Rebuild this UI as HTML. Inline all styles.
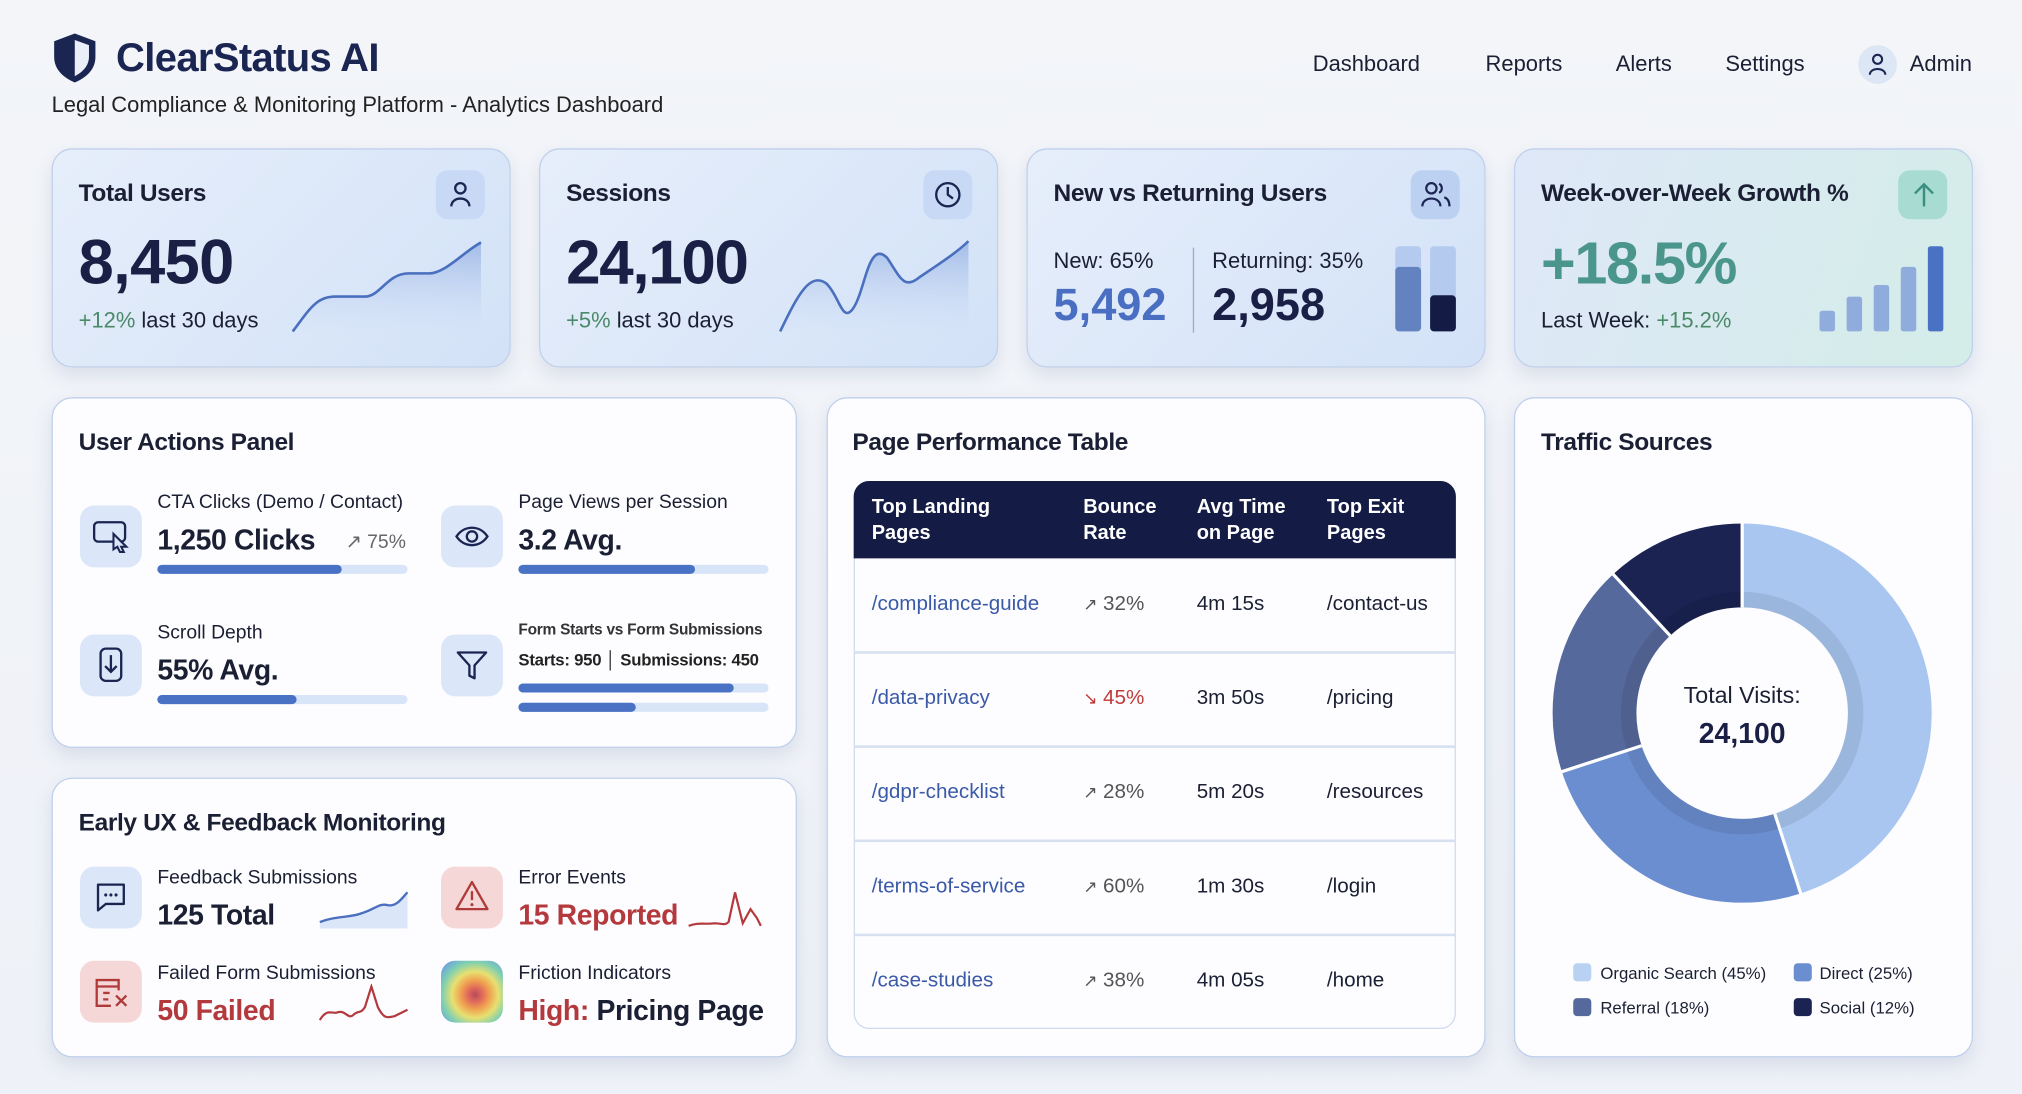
<!DOCTYPE html>
<html><head><meta charset="utf-8"><style>
html,body{margin:0;padding:0;width:2022px;height:1094px;overflow:hidden;background:#f1f3f8;}
#w{position:absolute;left:0;top:0;width:1568px;height:848px;transform:scale(1.28954);transform-origin:0 0;font-family:"Liberation Sans",sans-serif;color:#1b1f33;background:linear-gradient(180deg,#f3f5f9,#eef1f7);}
.a{position:absolute;white-space:nowrap;}
.card{position:absolute;border-radius:16px;border:1.5px solid #bfd0ec;box-shadow:0 6px 14px rgba(80,100,150,.15);}
.top{background:linear-gradient(135deg,#e6eefa,#d3e2f8);}
.pan{background:#fdfdff;}
.ib{position:absolute;width:38px;height:38px;border-radius:9px;background:#c7d9f5;}
.sq{position:absolute;width:48px;height:48px;border-radius:11px;background:#dbe6f8;}
.t{font-size:19px;font-weight:bold;letter-spacing:-.3px;}
.lbl{font-size:15px;}
.val{font-size:22px;font-weight:bold;letter-spacing:-.3px;}
.bar{position:absolute;height:7px;border-radius:4px;background:#d8e4f7;}
.bar i{position:absolute;left:0;top:0;height:7px;border-radius:4px;background:#4a72c4;}
.th{font-size:15.5px;color:#fff;line-height:20px;font-weight:bold;}
.td{font-size:16px;}
.ln{position:absolute;left:662px;width:467px;height:1.5px;background:#d6e0f0;}
</style></head><body><div id="w">
<!-- header -->
<svg class="a" style="left:40px;top:25px" width="36" height="40" viewBox="0 0 36 40"><path d="M18 1 L34 7 V19 C34 29 27 35 18 39 C9 35 2 29 2 19 V7 Z" fill="#1a2552"/><path d="M18 6 L29 10 V19 C29 26 24 31 18 34 Z" fill="#e9eef8"/></svg>
<div class="a" style="left:90px;top:27px;font-size:31px;font-weight:bold;color:#1a2552;letter-spacing:-.5px">ClearStatus AI</div>
<div class="a" style="left:40px;top:72px;font-size:17px;color:#222">Legal Compliance &amp; Monitoring Platform - Analytics Dashboard</div>
<div class="a" style="left:1018px;top:40px;font-size:17px">Dashboard</div>
<div class="a" style="left:1152px;top:40px;font-size:17px">Reports</div>
<div class="a" style="left:1253px;top:40px;font-size:17px">Alerts</div>
<div class="a" style="left:1338px;top:40px;font-size:17px">Settings</div>
<div class="a" style="left:1441px;top:35px;width:30px;height:30px;border-radius:50%;background:#dde6f5"></div>
<svg class="a" style="left:1448px;top:41px" width="16" height="18" viewBox="0 0 16 18"><circle cx="8" cy="5" r="3.5" fill="none" stroke="#1a2552" stroke-width="1.6"/><path d="M2 17 C2 11 14 11 14 17" fill="none" stroke="#1a2552" stroke-width="1.6"/></svg>
<div class="a" style="left:1481px;top:40px;font-size:17px">Admin</div>

<!-- top cards -->
<div class="card top" style="left:40px;top:115px;width:354px;height:168px"></div>
<div class="card top" style="left:418px;top:115px;width:354px;height:168px"></div>
<div class="card top" style="left:796px;top:115px;width:354px;height:168px"></div>
<div class="card" style="left:1174px;top:115px;width:354px;height:168px;background:linear-gradient(110deg,#dfe8f8,#d3ede8)"></div>

<div class="a t" style="left:61px;top:140px">Total Users</div>
<div class="ib" style="left:338px;top:132px"></div>
<svg class="a" style="left:347px;top:140px" width="20" height="22" viewBox="0 0 20 22"><circle cx="10" cy="6" r="4" fill="none" stroke="#1a2552" stroke-width="1.8"/><path d="M3 20 C3 12 17 12 17 20" fill="none" stroke="#1a2552" stroke-width="1.8"/></svg>
<div class="a" style="left:61px;top:176px;font-size:49px;font-weight:bold;color:#1a2045;letter-spacing:-.5px">8,450</div>
<div class="a" style="left:61px;top:239px;font-size:17px"><span style="color:#4a8a68">+12%</span> last 30 days</div>
<svg class="a" style="left:225px;top:185px" width="150" height="75" viewBox="0 0 150 75"><defs><linearGradient id="g1" x1="0" y1="0" x2="0" y2="1"><stop offset="0" stop-color="#7fa0dc" stop-opacity=".6"/><stop offset="1" stop-color="#c9d9f3" stop-opacity="0"/></linearGradient></defs><path d="M2 72 C15 55 20 45 35 45 L58 45 C70 45 75 27 92 27 L108 27 C120 27 135 10 148 3 V75 H2Z" fill="url(#g1)"/><path d="M2 72 C15 55 20 45 35 45 L58 45 C70 45 75 27 92 27 L108 27 C120 27 135 10 148 3" fill="none" stroke="#4a6fbf" stroke-width="2"/></svg>

<div class="a t" style="left:439px;top:140px">Sessions</div>
<div class="ib" style="left:716px;top:132px"></div>
<svg class="a" style="left:724px;top:140px" width="22" height="22" viewBox="0 0 22 22"><circle cx="11" cy="11" r="9" fill="none" stroke="#1a2552" stroke-width="1.8"/><path d="M11 5 V11 L15 14" fill="none" stroke="#1a2552" stroke-width="1.8"/></svg>
<div class="a" style="left:439px;top:177px;font-size:48px;font-weight:bold;color:#1a2045;letter-spacing:-1px">24,100</div>
<div class="a" style="left:439px;top:239px;font-size:17px"><span style="color:#4a8a68">+5%</span> last 30 days</div>
<svg class="a" style="left:603px;top:185px" width="150" height="75" viewBox="0 0 150 75"><path d="M2 72 C15 45 25 25 38 35 C48 45 50 65 58 55 C68 42 70 0 85 15 C95 30 98 40 110 30 C125 20 140 10 148 2 V75 H2Z" fill="url(#g1)"/><path d="M2 72 C15 45 25 25 38 35 C48 45 50 65 58 55 C68 42 70 0 85 15 C95 30 98 40 110 30 C125 20 140 10 148 2" fill="none" stroke="#4a6fbf" stroke-width="2"/></svg>

<div class="a t" style="left:817px;top:140px">New vs Returning Users</div>
<div class="ib" style="left:1094px;top:132px;background:#bcd1f2"></div>
<svg class="a" style="left:1101px;top:139px" width="26" height="24" viewBox="0 0 26 24"><circle cx="9" cy="7" r="4" fill="none" stroke="#1a2552" stroke-width="1.7"/><path d="M2 21 C2 13 16 13 16 21" fill="none" stroke="#1a2552" stroke-width="1.7"/><path d="M15 3.5 A4 4 0 0 1 15 10.5 M19 14 C22 15 23 18 23 21" fill="none" stroke="#1a2552" stroke-width="1.7"/></svg>
<div class="a" style="left:817px;top:193px;font-size:17px">New: 65%</div>
<div class="a" style="left:817px;top:217px;font-size:35px;font-weight:bold;color:#4a6fc2">5,492</div>
<div class="a" style="left:925px;top:192px;width:1px;height:66px;background:#9aaacc"></div>
<div class="a" style="left:940px;top:193px;font-size:17px">Returning: 35%</div>
<div class="a" style="left:940px;top:217px;font-size:35px;font-weight:bold;color:#1a2045">2,958</div>
<div class="a" style="left:1082px;top:191px;width:20px;height:66px;border-radius:3px;background:#b4cbef"></div>
<div class="a" style="left:1082px;top:207px;width:20px;height:50px;border-radius:3px;background:#6383c0"></div>
<div class="a" style="left:1109px;top:191px;width:20px;height:66px;border-radius:3px;background:#b4cbef"></div>
<div class="a" style="left:1109px;top:229px;width:20px;height:28px;border-radius:3px;background:#141c45"></div>

<div class="a t" style="left:1195px;top:140px">Week-over-Week Growth %</div>
<div class="ib" style="left:1472px;top:132px;background:#a8dcd2"></div>
<svg class="a" style="left:1482px;top:140px" width="20" height="22" viewBox="0 0 20 22"><path d="M10 20 V3 M3 10 L10 3 L17 10" fill="none" stroke="#3c8d82" stroke-width="1.9"/></svg>
<div class="a" style="left:1195px;top:177px;font-size:46px;font-weight:bold;color:#4a958c;letter-spacing:-1px">+18.5%</div>
<div class="a" style="left:1195px;top:239px;font-size:17px">Last Week: <span style="color:#4a8a68">+15.2%</span></div>
<div class="a" style="left:1411px;top:241px;width:12px;height:16px;border-radius:2px;background:#90acdc"></div>
<div class="a" style="left:1432px;top:230px;width:12px;height:27px;border-radius:2px;background:#90acdc"></div>
<div class="a" style="left:1453px;top:221px;width:12px;height:36px;border-radius:2px;background:#90acdc"></div>
<div class="a" style="left:1474px;top:207px;width:12px;height:50px;border-radius:2px;background:#90acdc"></div>
<div class="a" style="left:1495px;top:191px;width:12px;height:66px;border-radius:2px;background:#4a72c4"></div>

<!-- panels -->
<div class="card pan" style="left:40px;top:308px;width:576px;height:270px"></div>
<div class="card pan" style="left:40px;top:603px;width:576px;height:215px"></div>
<div class="card pan" style="left:641px;top:308px;width:509px;height:510px"></div>
<div class="card pan" style="left:1174px;top:308px;width:354px;height:510px"></div>

<!-- user actions -->
<div class="a t" style="left:61px;top:333px">User Actions Panel</div>
<div class="sq" style="left:62px;top:392px"></div>
<svg class="a" style="left:71px;top:402px" width="32" height="28" viewBox="0 0 32 28"><rect x="2" y="3" width="24" height="15" rx="3" fill="none" stroke="#1a2552" stroke-width="1.8"/><path d="M17 12 L27 22 L23 22 L25 26 L22 26 L20 22 L17 24 Z" fill="#dbe6f8" stroke="#1a2552" stroke-width="1.6"/></svg>
<div class="a lbl" style="left:122px;top:381px">CTA Clicks (Demo / Contact)</div>
<div class="a val" style="left:122px;top:406px">1,250 Clicks</div>
<div class="a" style="left:268px;top:411px;font-size:15px;color:#666">↗ 75%</div>
<div class="bar" style="left:122px;top:438px;width:194px"><i style="width:143px"></i></div>

<div class="sq" style="left:342px;top:392px"></div>
<svg class="a" style="left:352px;top:405px" width="28" height="22" viewBox="0 0 28 22"><path d="M2 11 C8 2 20 2 26 11 C20 20 8 20 2 11Z" fill="none" stroke="#1a2552" stroke-width="1.8"/><circle cx="14" cy="11" r="4" fill="none" stroke="#1a2552" stroke-width="1.8"/></svg>
<div class="a lbl" style="left:402px;top:381px">Page Views per Session</div>
<div class="a val" style="left:402px;top:406px">3.2 Avg.</div>
<div class="bar" style="left:402px;top:438px;width:194px"><i style="width:137px"></i></div>

<div class="sq" style="left:62px;top:492px"></div>
<svg class="a" style="left:75px;top:500px" width="22" height="32" viewBox="0 0 22 32"><rect x="3" y="3" width="16" height="25" rx="4" fill="none" stroke="#1a2552" stroke-width="1.8"/><path d="M11 8 V21 M6.5 16.5 L11 21 L15.5 16.5" fill="none" stroke="#1a2552" stroke-width="1.8"/></svg>
<div class="a lbl" style="left:122px;top:482px">Scroll Depth</div>
<div class="a val" style="left:122px;top:507px">55% Avg.</div>
<div class="bar" style="left:122px;top:539px;width:194px"><i style="width:108px"></i></div>

<div class="sq" style="left:342px;top:492px"></div>
<svg class="a" style="left:353px;top:503px" width="26" height="26" viewBox="0 0 26 26"><path d="M2 3 H24 L15 13 V23 L11 21 V13 Z" fill="none" stroke="#1a2552" stroke-width="1.8" stroke-linejoin="round"/></svg>
<div class="a" style="left:402px;top:481px;font-size:12px;font-weight:bold;color:#333;letter-spacing:-.2px">Form Starts vs Form Submissions</div>
<div class="a" style="left:402px;top:504px;font-size:13px;color:#222;letter-spacing:-.2px"><b>Starts: 950</b> │ <b>Submissions: 450</b></div>
<div class="bar" style="left:402px;top:530px;width:194px"><i style="width:167px"></i></div>
<div class="bar" style="left:402px;top:545px;width:194px"><i style="width:91px"></i></div>

<!-- early ux -->
<div class="a t" style="left:61px;top:628px">Early UX &amp; Feedback Monitoring</div>
<div class="sq" style="left:62px;top:672px"></div>
<svg class="a" style="left:73px;top:683px" width="26" height="26" viewBox="0 0 26 26"><path d="M3 3 H23 V18 H9 L3 23 Z" fill="none" stroke="#1a2552" stroke-width="1.8" stroke-linejoin="round"/><circle cx="9" cy="11" r="1.2" fill="#1a2552"/><circle cx="13" cy="11" r="1.2" fill="#1a2552"/><circle cx="17" cy="11" r="1.2" fill="#1a2552"/></svg>
<div class="a lbl" style="left:122px;top:672px">Feedback Submissions</div>
<div class="a val" style="left:122px;top:697px">125 Total</div>
<svg class="a" style="left:246px;top:690px" width="72" height="30" viewBox="0 0 72 30"><path d="M2 25 C15 20 25 22 35 18 C45 15 48 10 55 12 C62 13 66 6 70 2 V30 H2Z" fill="#dbe6f8"/><path d="M2 25 C15 20 25 22 35 18 C45 15 48 10 55 12 C62 13 66 6 70 2" fill="none" stroke="#4a6fbf" stroke-width="1.8"/></svg>

<div class="sq" style="left:342px;top:672px;background:#f5d7d7"></div>
<svg class="a" style="left:352px;top:682px" width="28" height="26" viewBox="0 0 28 26"><path d="M14 2 L26 23 H2 Z" fill="none" stroke="#b03a3a" stroke-width="1.8" stroke-linejoin="round"/><path d="M14 9 V16" stroke="#b03a3a" stroke-width="1.8"/><circle cx="14" cy="19.5" r="1.2" fill="#b03a3a"/></svg>
<div class="a lbl" style="left:402px;top:672px">Error Events</div>
<div class="a val" style="left:402px;top:697px;color:#b3393d">15 Reported</div>
<svg class="a" style="left:532px;top:690px" width="66" height="32" viewBox="0 0 66 32"><path d="M2 28 C10 25 15 27 22 26 C28 26 30 28 33 25 L38 2 L44 26 L50 15 L55 22 L58 28" fill="none" stroke="#b3393d" stroke-width="1.7"/></svg>

<div class="sq" style="left:62px;top:745px;background:#f5d7d7"></div>
<svg class="a" style="left:72px;top:756px" width="30" height="28" viewBox="0 0 30 28"><path d="M20 12 V4 H3 V24 H14" fill="none" stroke="#b03a3a" stroke-width="1.8"/><path d="M3 9 H20 M8 14 H13 M8 19 H12" stroke="#b03a3a" stroke-width="1.8"/><path d="M18 16 L26 24 M26 16 L18 24" stroke="#b03a3a" stroke-width="1.8"/></svg>
<div class="a lbl" style="left:122px;top:746px">Failed Form Submissions</div>
<div class="a val" style="left:122px;top:771px;color:#b3393d">50 Failed</div>
<svg class="a" style="left:246px;top:763px" width="72" height="32" viewBox="0 0 72 32"><path d="M2 28 C8 18 12 24 16 22 C22 20 24 28 28 24 C32 20 33 24 37 18 L42 2 L47 18 C52 28 55 26 60 25 L70 20" fill="none" stroke="#b3393d" stroke-width="1.7"/></svg>

<div class="a" style="left:342px;top:745px;width:48px;height:48px;border-radius:11px;background:radial-gradient(ellipse at 55% 55%,#b84a5a 0,#e06a5a 15%,#f0a050 30%,#e8e070 48%,#80d0b0 68%,#6aa0e0 90%)"></div>
<div class="a lbl" style="left:402px;top:746px">Friction Indicators</div>
<div class="a val" style="left:402px;top:771px"><span style="color:#b3393d">High:</span> Pricing Page</div>

<!-- table -->
<div class="a t" style="left:661px;top:333px">Page Performance Table</div>
<div class="a" style="left:662px;top:373px;width:467px;height:425px;border:1.5px solid #cfdbee;border-radius:12px;box-sizing:border-box"></div>
<div class="a" style="left:662px;top:373px;width:467px;height:60px;background:#141c45;border-radius:12px 12px 0 0"></div>
<div class="a th" style="left:676px;top:384px">Top Landing<br>Pages</div>
<div class="a th" style="left:840px;top:384px">Bounce<br>Rate</div>
<div class="a th" style="left:928px;top:384px">Avg Time<br>on Page</div>
<div class="a th" style="left:1029px;top:384px">Top Exit<br>Pages</div>
<div class="ln" style="top:505px"></div><div class="ln" style="top:578px"></div><div class="ln" style="top:651px"></div><div class="ln" style="top:724px"></div>

<div class="a td" style="left:676px;top:460px;color:#3a5aa8">/compliance-guide</div>
<div class="a td" style="left:840px;top:460px;color:#555"><span style="font-size:13px">↗</span> 32%</div>
<div class="a td" style="left:928px;top:460px">4m 15s</div>
<div class="a td" style="left:1029px;top:460px">/contact-us</div>

<div class="a td" style="left:676px;top:533px;color:#3a5aa8">/data-privacy</div>
<div class="a td" style="left:840px;top:533px;color:#c03a3a"><span style="font-size:13px">↘</span> 45%</div>
<div class="a td" style="left:928px;top:533px">3m 50s</div>
<div class="a td" style="left:1029px;top:533px">/pricing</div>

<div class="a td" style="left:676px;top:606px;color:#3a5aa8">/gdpr-checklist</div>
<div class="a td" style="left:840px;top:606px;color:#555"><span style="font-size:13px">↗</span> 28%</div>
<div class="a td" style="left:928px;top:606px">5m 20s</div>
<div class="a td" style="left:1029px;top:606px">/resources</div>

<div class="a td" style="left:676px;top:679px;color:#3a5aa8">/terms-of-service</div>
<div class="a td" style="left:840px;top:679px;color:#555"><span style="font-size:13px">↗</span> 60%</div>
<div class="a td" style="left:928px;top:679px">1m 30s</div>
<div class="a td" style="left:1029px;top:679px">/login</div>

<div class="a td" style="left:676px;top:752px;color:#3a5aa8">/case-studies</div>
<div class="a td" style="left:840px;top:752px;color:#555"><span style="font-size:13px">↗</span> 38%</div>
<div class="a td" style="left:928px;top:752px">4m 05s</div>
<div class="a td" style="left:1029px;top:752px">/home</div>

<!-- traffic -->
<div class="a t" style="left:1195px;top:333px">Traffic Sources</div>
<svg class="a" style="left:1191px;top:393px" width="320" height="320" viewBox="-160 -160 320 320">
<g transform="rotate(-90)">
<circle r="114.5" fill="none" stroke="#a9c6f0" stroke-width="65" stroke-dasharray="323.7 1000" stroke-dashoffset="0"/>
<circle r="114.5" fill="none" stroke="#6b8ed0" stroke-width="65" stroke-dasharray="179.9 1000" stroke-dashoffset="-323.7"/>
<circle r="114.5" fill="none" stroke="#56699c" stroke-width="65" stroke-dasharray="129.5 1000" stroke-dashoffset="-503.6"/>
<circle r="114.5" fill="none" stroke="#1a2352" stroke-width="65" stroke-dasharray="86.3 1000" stroke-dashoffset="-633.1"/>
</g>
<circle r="88" fill="none" stroke="#000" stroke-opacity=".08" stroke-width="12"/>
<g stroke="#fff" stroke-width="2.5">
<line x1="0" y1="-82" x2="0" y2="-148"/>
<line x1="25.3" y1="78" x2="45.7" y2="140.8"/>
<line x1="-78" y1="25.3" x2="-140.8" y2="45.7"/>
<line x1="-55.8" y1="-60" x2="-100.7" y2="-108.4"/>
</g>
</svg>
<div class="a" style="left:1271px;top:529px;width:160px;text-align:center;font-size:18px">Total Visits:</div>
<div class="a" style="left:1271px;top:556px;width:160px;text-align:center;font-size:22px;font-weight:bold;color:#1a2045">24,100</div>
<div class="a" style="left:1220px;top:747px;width:14px;height:14px;border-radius:3px;background:#b9d2f4"></div>
<div class="a" style="left:1241px;top:747px;font-size:13px">Organic Search (45%)</div>
<div class="a" style="left:1391px;top:747px;width:14px;height:14px;border-radius:3px;background:#6b8ed0"></div>
<div class="a" style="left:1411px;top:747px;font-size:13px">Direct (25%)</div>
<div class="a" style="left:1220px;top:774px;width:14px;height:14px;border-radius:3px;background:#56699c"></div>
<div class="a" style="left:1241px;top:774px;font-size:13px">Referral (18%)</div>
<div class="a" style="left:1391px;top:774px;width:14px;height:14px;border-radius:3px;background:#1a2352"></div>
<div class="a" style="left:1411px;top:774px;font-size:13px">Social (12%)</div>
</div></body></html>
